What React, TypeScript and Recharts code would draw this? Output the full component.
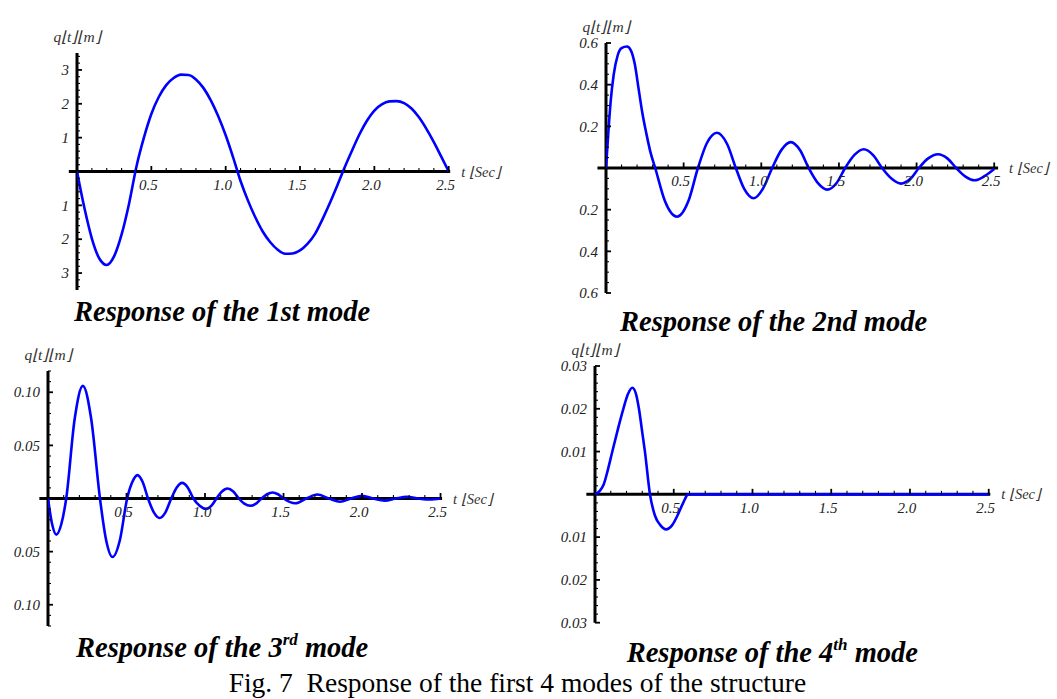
import React from "react";
import { LineChart, Line, XAxis, YAxis, ReferenceLine } from "recharts";

// samples (t in s, q in m)
const mode1T = [0, 0.05, 0.1, 0.15, 0.2, 0.25, 0.3, 0.35, 0.4, 0.45, 0.5, 0.55, 0.6, 0.65, 0.7, 0.75, 0.8, 0.85, 0.9, 0.95, 1.0, 1.05, 1.1, 1.15, 1.2, 1.25, 1.3, 1.35, 1.4, 1.45, 1.5, 1.55, 1.6, 1.65, 1.7, 1.75, 1.8, 1.85, 1.9, 1.95, 2.0, 2.05, 2.1, 2.15, 2.2, 2.25, 2.3, 2.35, 2.4, 2.45, 2.5];
const mode1Q = [0, -1.08, -1.98, -2.57, -2.76, -2.5, -1.86, -0.95, 0.15, 1.0, 1.7, 2.2, 2.55, 2.76, 2.86, 2.85, 2.72, 2.47, 2.1, 1.63, 1.07, 0.42, -0.28, -0.86, -1.36, -1.78, -2.09, -2.31, -2.43, -2.42, -2.33, -2.14, -1.85, -1.42, -0.94, -0.42, 0.12, 0.62, 1.1, 1.5, 1.8, 1.98, 2.07, 2.08, 2.02, 1.86, 1.6, 1.26, 0.87, 0.44, 0];

const mode2T = [0, 0.015, 0.03, 0.05, 0.075, 0.1, 0.135, 0.16, 0.185, 0.21, 0.235, 0.26, 0.285, 0.317, 0.38, 0.457, 0.53, 0.592, 0.65, 0.715, 0.78, 0.836, 0.89, 0.952, 1.01, 1.07, 1.13, 1.19, 1.25, 1.305, 1.365, 1.425, 1.485, 1.54, 1.6, 1.66, 1.72, 1.778, 1.84, 1.9, 1.96, 2.015, 2.075, 2.138, 2.2, 2.255, 2.315, 2.375, 2.44, 2.5];
const mode2Q = [0, 0.17, 0.32, 0.45, 0.54, 0.575, 0.583, 0.565, 0.5, 0.38, 0.26, 0.165, 0.08, 0, -0.16, -0.234, -0.16, 0, 0.12, 0.169, 0.115, 0, -0.1, -0.145, -0.1, 0, 0.087, 0.124, 0.085, 0, -0.073, -0.104, -0.072, 0, 0.063, 0.09, 0.062, 0, -0.052, -0.075, -0.052, 0, 0.046, 0.066, 0.045, 0, -0.041, -0.059, -0.038, -0.005];

const mode3T = [0, 0.026, 0.053, 0.085, 0.116, 0.17, 0.222, 0.275, 0.331, 0.37, 0.411, 0.458, 0.504, 0.537, 0.57, 0.603, 0.637, 0.674, 0.711, 0.748, 0.785, 0.82, 0.854, 0.89, 0.926, 0.966, 1.006, 1.04, 1.073, 1.108, 1.143, 1.18, 1.215, 1.25, 1.29, 1.325, 1.36, 1.395, 1.43, 1.465, 1.5, 1.575, 1.645, 1.715, 1.79, 1.86, 1.93, 2.0, 2.07, 2.145, 2.215, 2.285, 2.36, 2.43, 2.5];
const mode3Q = [0, -0.024, -0.034, -0.024, 0, 0.075, 0.106, 0.075, 0, -0.039, -0.055, -0.039, 0, 0.0155, 0.022, 0.0155, 0, -0.013, -0.0183, -0.013, 0, 0.0104, 0.0147, 0.0104, 0, -0.0069, -0.0098, -0.0069, 0, 0.0066, 0.0094, 0.0066, 0, -0.0048, -0.0068, -0.0048, 0, 0.004, 0.0057, 0.004, 0, -0.0045, 0, 0.0037, 0, -0.003, 0, 0.0025, 0, -0.002, 0, 0.0015, 0, -0.001, 0];

const mode4T = [0, 0.03, 0.055, 0.08, 0.11, 0.145, 0.18, 0.21, 0.237, 0.26, 0.279, 0.3, 0.317, 0.349, 0.381, 0.415, 0.451, 0.49, 0.523, 0.56, 0.592, 0.7, 1.0, 1.5, 2.0, 2.5];
const mode4Q = [0, 0.0008, 0.0023, 0.0055, 0.01, 0.0152, 0.02, 0.0235, 0.0249, 0.0235, 0.02, 0.0145, 0.01, 0, -0.005, -0.0072, -0.0082, -0.0072, -0.005, -0.002, 0, 0, 0, 0, 0, 0];

const xMajor = [0.5, 1.0, 1.5, 2.0, 2.5];
const mode1YMajor = [-3, -2, -1, 1, 2, 3];
const mode2YMajor = [-0.6, -0.4, -0.2, 0.2, 0.4, 0.6];
const mode3YMajor = [-0.1, -0.05, 0.05, 0.1];
const mode4YMajor = [-0.03, -0.02, -0.01, 0.01, 0.02, 0.03];

const SERIF = "'Liberation Serif', 'Times New Roman', serif";
const YW = 40;
const MT = 32;
const MR = 80;
const MB = 14;
const XH = 1;

function steps(step: number, max: number) {
  const out: number[] = [];
  const n = Math.floor(max / step + 1e-9);
  for (let k = -n; k <= n; k++) out.push(+(k * step).toFixed(6));
  return out;
}

const isIn = (list: number[], v: number) => list.some((m) => Math.abs(m - v) < 1e-9);

type PanelProps = {
  t: number[];
  q: number[];
  left: number;
  top: number;
  plotW: number;
  plotH: number;
  xMax: number;
  yMax: number;
  yMajor: number[];
  yStep: number;
  yDigits: number;
};

function Panel(p: PanelProps) {
  const data = p.t.map((t, i) => ({ t, q: p.q[i] }));
  const xTicks = steps(0.1, 2.5).filter((v) => v > 0);
  const yTicks = steps(p.yStep, p.yMax).filter((v) => v !== 0);

  // x axis sits at q = 0, in the middle of the (symmetric) plot area
  const XTick = (props: any) => {
    const { x, y, payload } = props;
    const zeroY = y - p.plotH / 2;
    const major = isIn(xMajor, payload.value);
    return (
      <g>
        <line x1={x} x2={x} y1={zeroY} y2={zeroY - (major ? 5.5 : 3.5)} stroke="#000" strokeWidth={major ? 1.8 : 1.1} />
        {major && (
          <text x={x - 3} y={zeroY + 13} dy="0.35em" textAnchor="middle" fontSize={15} fontStyle="italic" fontFamily={SERIF} fill="#222">
            {payload.value.toFixed(1)}
          </text>
        )}
      </g>
    );
  };

  const YTick = (props: any) => {
    const { x, y, payload } = props;
    const major = isIn(p.yMajor, payload.value);
    return (
      <g>
        <line x1={x} x2={x + (major ? 5 : 3)} y1={y} y2={y} stroke="#000" strokeWidth={major ? 1.8 : 1.1} />
        {major && (
          <text x={x - 8} y={y} dy="0.35em" textAnchor="end" fontSize={15} fontStyle="italic" fontFamily={SERIF} fill="#222">
            {Math.abs(payload.value).toFixed(p.yDigits)}
          </text>
        )}
      </g>
    );
  };

  return (
    <div style={{ position: "absolute", left: p.left - YW, top: p.top - MT }}>
      <LineChart
        width={YW + p.plotW + MR}
        height={MT + p.plotH + XH + MB}
        data={data}
        margin={{ top: MT, right: MR, bottom: MB, left: 0 }}
      >
        <XAxis
          dataKey="t"
          type="number"
          domain={[0, p.xMax]}
          allowDataOverflow
          ticks={xTicks}
          interval={0}
          height={XH}
          tickSize={0}
          tickMargin={0}
          axisLine={false}
          tickLine={false}
          tick={XTick}
        />
        <YAxis
          type="number"
          domain={[-p.yMax, p.yMax]}
          allowDataOverflow
          ticks={yTicks}
          interval={0}
          width={YW}
          tickSize={0}
          tickMargin={0}
          axisLine={false}
          tickLine={false}
          tick={YTick}
        />
        <ReferenceLine
          segment={[{ x: -0.055, y: 0 }, { x: p.xMax, y: 0 }]}
          ifOverflow="visible"
          stroke="#000"
          strokeWidth={3}
          label={{ value: "t ⌊Sec⌋", position: "right", offset: 11, fontSize: 14.5, fontStyle: "italic", fontFamily: SERIF, fill: "#333" }}
        />
        <ReferenceLine
          x={0}
          stroke="#000"
          strokeWidth={3}
          label={{ value: "q⌊t⌋⌊m⌋", position: "top", offset: 11, fontSize: 15.5, fontStyle: "italic", fontFamily: SERIF, fill: "#333" }}
        />
        <Line type="monotone" dataKey="q" stroke="#0000ff" strokeWidth={2.6} dot={false} isAnimationActive={false} />
      </LineChart>
    </div>
  );
}

const titleStyle: React.CSSProperties = {
  position: "absolute",
  fontFamily: SERIF,
  fontWeight: "bold",
  fontStyle: "italic",
  fontSize: 28.5,
  lineHeight: 1,
  whiteSpace: "nowrap",
  color: "#000",
};

const supStyle: React.CSSProperties = { fontSize: "0.6em", verticalAlign: "0.7em", lineHeight: 0 };

export default function App() {
  return (
    <div style={{ position: "absolute", left: 0, top: 0, width: 1057, height: 699, background: "#fff", overflow: "hidden" }}>
      <Panel t={mode1T} q={mode1Q} left={76.7} top={53} plotW={373.2} plotH={237} xMax={2.51} yMax={3.5} yMajor={mode1YMajor} yStep={0.2} yDigits={0} />
      <Panel t={mode2T} q={mode2Q} left={605.7} top={43} plotW={392.1} plotH={250} xMax={2.525} yMax={0.6} yMajor={mode2YMajor} yStep={0.05} yDigits={1} />
      <Panel t={mode3T} q={mode3Q} left={47.7} top={370.7} plotW={394.1} plotH={255} xMax={2.51} yMax={0.12} yMajor={mode3YMajor} yStep={0.01} yDigits={2} />
      <Panel t={mode4T} q={mode4Q} left={595} top={366} plotW={395.3} plotH={256.7} xMax={2.51} yMax={0.03} yMajor={mode4YMajor} yStep={0.002} yDigits={2} />

      <div style={{ ...titleStyle, left: 74, top: 312 - 14 }}>Response of the 1st mode</div>
      <div style={{ ...titleStyle, left: 620, top: 321.7 - 14 }}>Response of the 2nd mode</div>
      <div style={{ ...titleStyle, left: 76, top: 648 - 14 }}>
        Response of the 3<span style={supStyle}>rd</span> mode
      </div>
      <div style={{ ...titleStyle, left: 626.7, top: 653 - 14 }}>
        Response of the 4<span style={supStyle}>th</span> mode
      </div>
      <div
        style={{
          position: "absolute",
          left: 228.7,
          top: 683 - 13.7,
          fontFamily: SERIF,
          fontSize: 27.5,
          lineHeight: 1,
          whiteSpace: "pre",
          color: "#000",
        }}
      >
        {"Fig. 7  Response of the first 4 modes of the structure"}
      </div>
    </div>
  );
}
